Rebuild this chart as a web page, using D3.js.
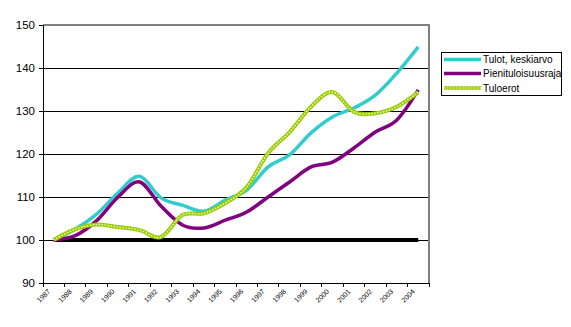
<!DOCTYPE html>
<html><head><meta charset="utf-8">
<script src="https://cdn.jsdelivr.net/npm/d3@7"></script>
<style>body{margin:0;background:#fff}svg{display:block;font-family:Arial,"Liberation Sans",sans-serif}</style>
</head><body><svg id="c" width="571" height="327"></svg>
<script>
const years = ["1987","1988","1989","1990","1991","1992","1993","1994","1995","1996","1997","1998","1999","2000","2001","2002","2003","2004"];
const tulot = [100,102.5,106,111,114.8,109.8,108.1,106.7,109.3,111.6,117,119.8,124.9,128.6,130.7,133.7,138.8,144.9];
const pieni = [100,101,104.5,110,113.5,107.9,103.5,102.8,104.6,106.5,110,113.5,117,118.1,121.4,125.1,127.9,134.9];
const erot = [100,102.5,103.6,103,102.3,100.7,105.8,106.2,108.6,112.3,120.2,125.1,131,134.4,129.8,129.5,131,134.4];
const base = years.map(() => 100);
const yTicks = [90,100,110,120,130,140,150];
const seriesNames = ["Tulot, keskiarvo","Pienituloisuusraja","Tuloerot"];

const svg = d3.select("#c");
const L=43, R=429, T=25, B=283;
const x = d3.scaleBand().domain(years).range([L,R]);
const xc = d => x(d) + x.bandwidth()/2;
const y = d3.scaleLinear().domain([90,150]).range([B,T]);

// gridlines
svg.append("g").selectAll("line").data(yTicks.filter(t=>t>90 && t<150)).join("line")
  .attr("x1",L).attr("x2",R).attr("y1",d=>y(d)).attr("y2",d=>y(d))
  .attr("stroke","#000").attr("stroke-width",1).attr("shape-rendering","crispEdges");
// plot border top/right gray
svg.append("path").attr("d",`M${L},${T}H${R}V${B}`).attr("fill","none")
  .attr("stroke","#808080").attr("stroke-width",1.2).attr("shape-rendering","crispEdges");

// y axis
const ya = svg.append("g").attr("transform",`translate(${L},0)`)
  .call(d3.axisLeft(y).tickValues(yTicks).tickSize(4).tickPadding(4));
ya.select(".domain").attr("stroke","#000");
ya.selectAll("text").attr("font-size",11.5).attr("fill","#000").attr("font-family","Arial, 'Liberation Sans', sans-serif");

// x axis
const xa = svg.append("g").attr("transform",`translate(0,${B})`)
  .call(d3.axisBottom(x).tickSize(0).tickFormat(""));
xa.select(".domain").attr("stroke","#000");
svg.append("g").selectAll("line").data(d3.range(years.length+1)).join("line")
  .attr("x1",i=>L+i*x.step()).attr("x2",i=>L+i*x.step()).attr("y1",B).attr("y2",B+4)
  .attr("stroke","#000").attr("shape-rendering","crispEdges");
svg.append("g").selectAll("text").data(years).join("text")
  .attr("transform",d=>`translate(${xc(d)-3},${B+9}) rotate(-45)`)
  .attr("text-anchor","end").attr("font-size",7).attr("fill","#000")
  .text(d=>d);

const line = d3.line().x((d,i)=>xc(years[i])).y(d=>y(d)).curve(d3.curveCardinal.tension(0));

// baseline series
svg.append("path").attr("d",d3.line().x((d,i)=>xc(years[i])).y(d=>y(d))(base))
  .attr("fill","none").attr("stroke","#000").attr("stroke-width",4);

svg.append("path").attr("d",line(tulot)).attr("fill","none").attr("stroke","#33CCCC").attr("stroke-width",3.5);
svg.append("path").attr("d",line(pieni)).attr("fill","none").attr("stroke","#800080").attr("stroke-width",3.5);
svg.append("path").attr("d",line(erot)).attr("fill","none").attr("stroke","#99CC00").attr("stroke-width",4);
svg.append("path").attr("d",line(erot)).attr("fill","none").attr("stroke","#f4ffd0").attr("stroke-width",1.3).attr("stroke-dasharray","1.5,1.5");

// legend
const lg = svg.append("g");
lg.append("rect").attr("x",441.5).attr("y",52.5).attr("width",120).attr("height",43)
  .attr("fill","#fff").attr("stroke","#000").attr("stroke-width",1);
const colors = ["#33CCCC","#800080","#99CC00"];
const rowsY = [59.5,73.5,88];
seriesNames.forEach((n,i)=>{
  lg.append("line").attr("x1",444).attr("x2",481).attr("y1",rowsY[i]).attr("y2",rowsY[i])
    .attr("stroke",colors[i]).attr("stroke-width",3.5);
  if(i==2) lg.append("line").attr("x1",444).attr("x2",481).attr("y1",rowsY[i]).attr("y2",rowsY[i])
    .attr("stroke","#f4ffd0").attr("stroke-width",1.2).attr("stroke-dasharray","1.5,1.5");
  lg.append("text").attr("x",483).attr("y",rowsY[i]+3.5).attr("font-size",10).attr("fill","#000").text(n);
});
</script></body></html>
